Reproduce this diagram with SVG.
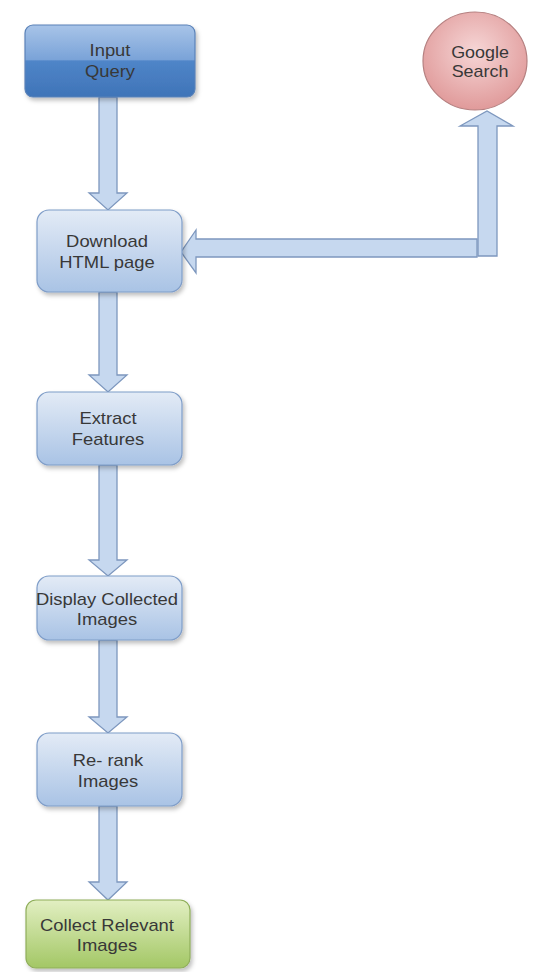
<svg xmlns="http://www.w3.org/2000/svg" width="553" height="972" viewBox="0 0 553 972">
<defs>
<linearGradient id="gBlue" x1="0" y1="0" x2="0" y2="1">
<stop offset="0" stop-color="#e3ebf6"/>
<stop offset="1" stop-color="#a9c3e5"/>
</linearGradient>
<linearGradient id="gDark" x1="0" y1="0" x2="0" y2="1">
<stop offset="0" stop-color="#a8c4e8"/>
<stop offset="0.48" stop-color="#7aa3d8"/>
<stop offset="0.5" stop-color="#4f85c8"/>
<stop offset="1" stop-color="#3f74b8"/>
</linearGradient>
<linearGradient id="gGreen" x1="0" y1="0" x2="0" y2="1">
<stop offset="0" stop-color="#e2efc2"/>
<stop offset="1" stop-color="#a3c765"/>
</linearGradient>
<radialGradient id="gRed" cx="0.5" cy="0.4" r="0.6">
<stop offset="0" stop-color="#f6d6d6"/>
<stop offset="1" stop-color="#e09a9a"/>
</radialGradient>
<filter id="sh" x="-10%" y="-10%" width="130%" height="130%">
<feDropShadow dx="2" dy="3" stdDeviation="2" flood-color="#000" flood-opacity="0.25"/>
</filter>
</defs>
<style>
.box{fill:url(#gBlue);stroke:#7f9dc8;stroke-width:1.2;filter:url(#sh)}
.arrow{fill:#c6d8ef;stroke:#7d97be;stroke-width:1.3}
text{font-family:"Liberation Sans",Arial,sans-serif;font-size:16px;fill:#383838;text-anchor:middle}
</style>
<rect width="553" height="972" fill="#fff"/>
<g id="connectors">
<polygon class="arrow" points="99,97 117,97 117,193 127,193 108,210 89,193 99,193"/>
<polygon class="arrow" points="99,292 117,292 117,375 127,375 108,392 89,375 99,375"/>
<polygon class="arrow" points="99,465 117,465 117,560 127,560 108,576 89,560 99,560"/>
<polygon class="arrow" points="99,640 117,640 117,717 127,717 108,733 89,717 99,717"/>
<polygon class="arrow" points="99,806 117,806 117,882 127,882 108,900 89,882 99,882"/>
<polygon class="arrow" points="478,256 478,126 460,126 487,111 513,126 497,126 497,256"/>
<polygon class="arrow" points="477,239 477,257 196,257 196,273 181,252 196,230 196,239"/>
</g>
<g id="input-query">
<rect x="25" y="25" width="170" height="72" rx="8" fill="url(#gDark)" stroke="#5a82b8" stroke-width="1.2" filter="url(#sh)"/>
<g transform="translate(110,0) scale(1.15,1)">
<text x="0" y="56">Input</text>
<text x="0" y="77">Query</text>
</g>
</g>
<g id="google-search">
<ellipse cx="475" cy="61" rx="52" ry="49" fill="url(#gRed)" stroke="#b58080" stroke-width="1.2"/>
<g transform="translate(480,0) scale(1.12,1)">
<text x="0" y="58">Google</text>
<text x="0" y="77">Search</text>
</g>
</g>
<g id="download">
<rect class="box" x="37" y="210" width="145" height="82" rx="12"/>
<g transform="translate(107,0) scale(1.15,1)">
<text x="0" y="247">Download</text>
<text x="0" y="268">HTML page</text>
</g>
</g>
<g id="extract">
<rect class="box" x="37" y="392" width="145" height="73" rx="12"/>
<g transform="translate(108,0) scale(1.15,1)">
<text x="0" y="424">Extract</text>
<text x="0" y="445">Features</text>
</g>
</g>
<g id="display">
<rect class="box" x="37" y="576" width="145" height="64" rx="12"/>
<g transform="translate(107,0) scale(1.15,1)">
<text x="0" y="605">Display Collected</text>
<text x="0" y="625">Images</text>
</g>
</g>
<g id="rerank">
<rect class="box" x="37" y="733" width="145" height="73" rx="12"/>
<g transform="translate(108,0) scale(1.15,1)">
<text x="0" y="766">Re- rank</text>
<text x="0" y="787">Images</text>
</g>
</g>
<g id="collect">
<rect x="26" y="900" width="164" height="68" rx="10" fill="url(#gGreen)" stroke="#8fae5a" stroke-width="1.2" filter="url(#sh)"/>
<g transform="translate(107,0) scale(1.15,1)">
<text x="0" y="931">Collect Relevant</text>
<text x="0" y="951">Images</text>
</g>
</g>
</svg>
